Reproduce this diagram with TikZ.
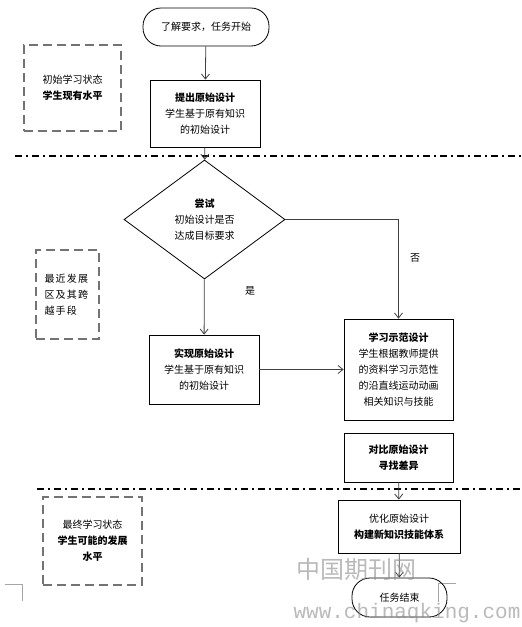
\documentclass[tikz,border=0pt]{standalone}
\usepackage{fontspec}
\setmainfont{Noto Sans CJK SC}
\newfontfamily\wmfont{Liberation Mono}
\usetikzlibrary{shapes.geometric,arrows.meta}

\begin{document}
\begin{tikzpicture}[x=1pt, y=-1pt, font=\fontsize{10}{16}\selectfont,
    stepbox/.style={draw, line width=0.8pt, align=center, inner sep=0pt},
    termbox/.style={draw, line width=0.8pt, rounded corners=18pt, align=center, inner sep=0pt},
    choice/.style={draw, diamond, line width=0.8pt, aspect=1.35, align=center, inner sep=0pt,
      minimum width=161pt, minimum height=119pt},
    statebox/.style={draw=black!55, line width=1.6pt, dash pattern=on 9pt off 5pt,
      align=center, inner sep=0pt},
    flow/.style={draw=black!75, line width=0.8pt, -{Straight Barb[length=5pt, width=8pt]}},
    sepline/.style={line width=1.6pt, dash pattern=on 7pt off 4pt on 2pt off 4pt},
    cropmark/.style={draw=black!35, line width=0.6pt}]
  \useasboundingbox (0,0) rectangle (522,627);

  % crop marks and stage separators
  \draw[cropmark] (5,584) -- (22,584) -- (22,601);
  \draw[cropmark] (456,583) -- (438,583) -- (438,602);
  \draw[sepline] (15,156) -- (522,156);
  \draw[sepline] (37,489) -- (522,489);

  % learning states
  \node[statebox, minimum width=97pt, minimum height=86pt] (stateA) at (72.5,88)
    {初始学习状态\\\textbf{学生现有水平}};
  \node[statebox, minimum width=63pt, minimum height=89pt, text width=46pt, align=left,
    font=\fontsize{10}{16}\selectfont\addfontfeature{LetterSpace=12}] (stateB) at (67.5,294.5)
    {最近发展\\区及其跨\\越手段};
  \node[statebox, minimum width=99pt, minimum height=88pt] (stateC) at (92.5,541)
    {最终学习状态\\\textbf{学生可能的发展}\\\textbf{水平}};

  % flow
  \node[termbox, fill=white, minimum width=126pt, minimum height=38pt] (start) at (206,27) {了解要求，任务开始};
  \node[stepbox, minimum width=110pt, minimum height=67pt] (propose) at (205,113.5)
    {\textbf{提出原始设计}\\学生基于原有知识\\的初始设计};
  \node[choice] (try) at (204.5,219.5) {\textbf{尝试}\\初始设计是否\\达成目标要求};
  \node[stepbox, minimum width=110pt, minimum height=69pt] (realize) at (204,369.5)
    {\textbf{实现原始设计}\\学生基于原有知识\\的初始设计};
  \node[stepbox, minimum width=109pt, minimum height=101pt] (learn) at (398.5,369.5)
    {\textbf{学习示范设计}\\学生根据教师提供\\的资料学习示范性\\的沿直线运动动画\\相关知识与技能};
  \node[stepbox, minimum width=109pt, minimum height=49pt] (compare) at (398.5,457.5)
    {\textbf{对比原始设计}\\\textbf{寻找差异}};
  \node[stepbox, fill=white, minimum width=122pt, minimum height=53pt] (optimize) at (399,526.5)
    {优化原始设计\\\textbf{构建新知识技能体系}};
  \node[termbox, minimum width=95pt, minimum height=39pt] (finish) at (399.5,597.5) {任务结束};

  \draw[flow] (start) -- (propose);
  \draw[flow] (propose) -- (try);
  \draw[flow] (try) -- (realize);
  \draw[flow] (try.east) -| (learn.north);
  \draw[flow] (realize) -- (learn);
  \draw[flow] (compare) -- (optimize);
  \draw[flow] (optimize) -- (finish);

  \node (yes) at (250,291) {是};
  \node (no) at (415,258) {否};

  % watermark
  \node[text=black!45, opacity=0.6, font=\fontsize{24}{24}\selectfont] (wmcn) at (356,569) {中国期刊网};
  \node[text=black!45, opacity=0.6, font=\wmfont\fontsize{21}{21}\selectfont, inner sep=0pt] (wmurl) at (407,613) {www.chinaqking.com};
\end{tikzpicture}
\end{document}
